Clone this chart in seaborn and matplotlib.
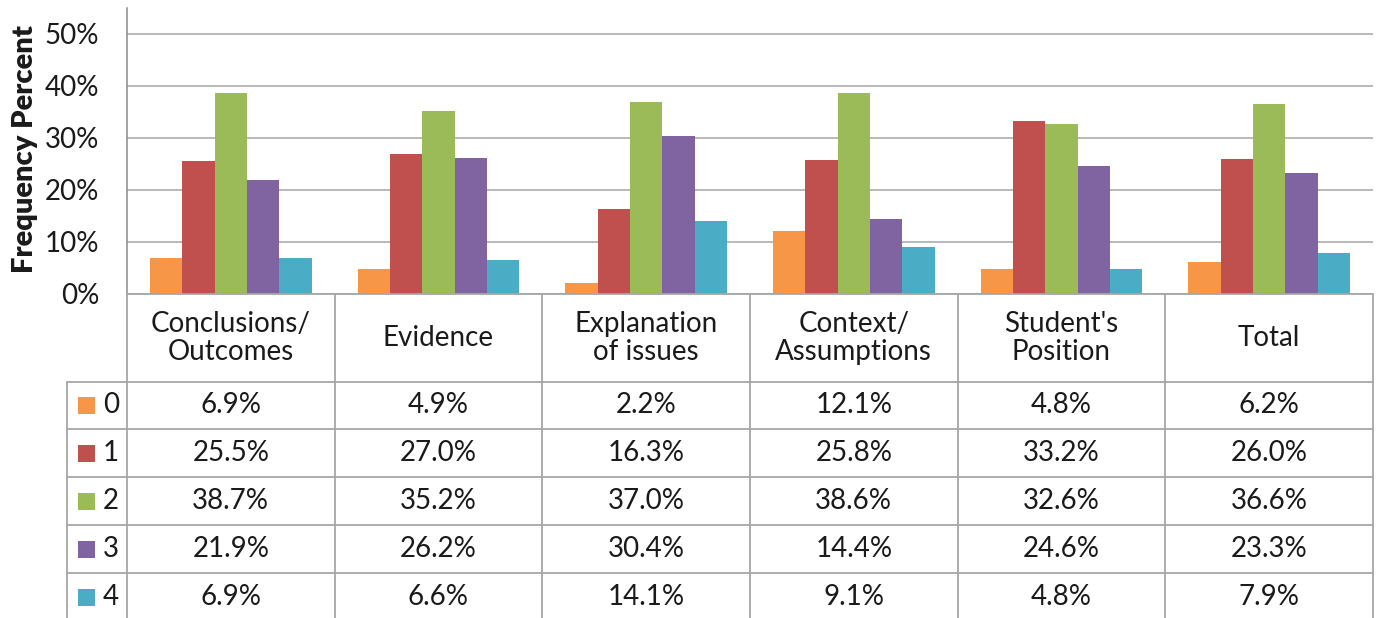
import numpy as np
import pandas as pd
import matplotlib
matplotlib.use("Agg")
import matplotlib.pyplot as plt
import seaborn as sns
from matplotlib.ticker import PercentFormatter

categories = ["Conclusions/\nOutcomes", "Evidence", "Explanation\nof issues",
              "Context/\nAssumptions", "Student's\nPosition", "Total"]
scores = ["0", "1", "2", "3", "4"]
score_0 = [6.9, 4.9, 2.2, 12.1, 4.8, 6.2]
score_1 = [25.5, 27.0, 16.3, 25.8, 33.2, 26.0]
score_2 = [38.7, 35.2, 37.0, 38.6, 32.6, 36.6]
score_3 = [21.9, 26.2, 30.4, 14.4, 24.6, 23.3]
score_4 = [6.9, 6.6, 14.1, 9.1, 4.8, 7.9]
colors = ["#F79646", "#C0504D", "#9BBB59", "#8064A2", "#4BACC6"]

series = [score_0, score_1, score_2, score_3, score_4]
rows = []
for s, vals in zip(scores, series):
    for c, v in zip(categories, vals):
        rows.append({"Category": c, "Score": s, "Value": v / 100})
df = pd.DataFrame(rows)

sns.set_style("white")
plt.rcParams["font.family"] = ["Lato", "DejaVu Sans"]
FS = 20
TXT = "#1a1a1a"
GRID = "#a6a6a6"

W, H = 1382, 618
fig = plt.figure(figsize=(W / 100, H / 100), dpi=100)

# pixel layout
x0, x1 = 127, 1373
y_top, y_zero = 8, 294
ax = fig.add_axes([x0 / W, (H - y_zero) / H, (x1 - x0) / W, (y_zero - y_top) / H])

sns.barplot(data=df, x="Category", y="Value", hue="Score", palette=colors,
            width=0.78, ax=ax, legend=False, saturation=1, edgecolor="none")
ax.set_xlim(-0.5, len(categories) - 0.5)
ax.set_ylim(0, 0.55)
ax.set_yticks(np.arange(0, 0.51, 0.1))
ax.yaxis.set_major_formatter(PercentFormatter(1.0, decimals=0))
ax.tick_params(axis="y", labelsize=FS, labelcolor=TXT, length=0, pad=20)
ax.set_xticks([])
ax.set_xlabel("")
ax.set_ylabel("Frequency Percent", fontsize=21, fontweight="heavy", color=TXT)
ax.yaxis.set_label_coords((38 - x0) / (x1 - x0), (y_zero - 149) / (y_zero - y_top))
ax.yaxis.grid(True, color=GRID, linewidth=1.1)
ax.set_axisbelow(True)
for sp in ["top", "right", "bottom"]:
    ax.spines[sp].set_visible(False)
ax.spines["left"].set_color("#8c8c8c")
ax.spines["left"].set_linewidth(1.1)

# data table below the chart
tab = fig.add_axes([0, 0, 1, 1])
tab.set_xlim(0, W)
tab.set_ylim(H, 0)
tab.axis("off")
tab.patch.set_alpha(0)

leg_x = 67
col_w = (x1 - x0) / len(categories)
head_bot = 381.5
row_h = 47.8
row_edges = [head_bot + i * row_h for i in range(len(scores) + 1)]
lw = 1.3

# horizontal lines
tab.plot([x0, x1], [y_zero, y_zero], color=GRID, lw=lw)
for ye in row_edges:
    tab.plot([leg_x, x1], [ye, ye], color=GRID, lw=lw)
# vertical lines
tab.plot([leg_x, leg_x], [head_bot, H], color=GRID, lw=lw)
for i in range(len(categories) + 1):
    xe = x0 + i * col_w
    tab.plot([xe, xe], [y_zero, H], color=GRID, lw=lw)

# header
for i, c in enumerate(categories):
    tab.text(x0 + (i + 0.5) * col_w, (y_zero + head_bot) / 2, c, ha="center",
             va="center", fontsize=FS, color=TXT, linespacing=1.1)

# rows
for r, (s, vals) in enumerate(zip(scores, series)):
    yc = row_edges[r] + row_h / 2
    tab.add_patch(plt.Rectangle((78, yc - 8), 17, 17, color=colors[r], lw=0))
    tab.text(103, yc, s, ha="left", va="center", fontsize=FS, color=TXT)
    for i, v in enumerate(vals):
        tab.text(x0 + (i + 0.5) * col_w, yc, f"{v:.1f}%", ha="center", va="center",
                 fontsize=FS, color=TXT)

fig.savefig("out.png", dpi=100)
